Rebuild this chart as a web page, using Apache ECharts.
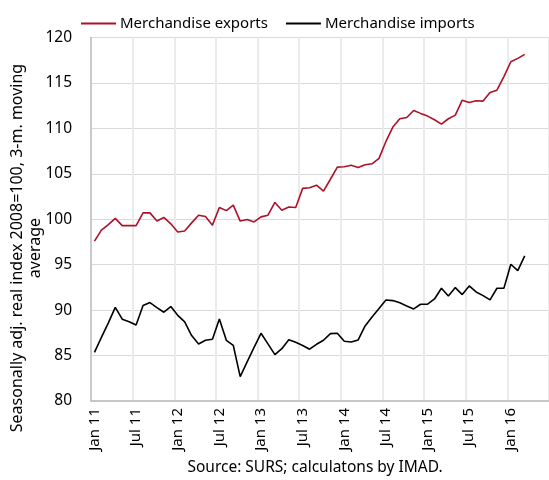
<!DOCTYPE html>
<html>
<head>
<meta charset="utf-8">
<script src="https://cdn.jsdelivr.net/npm/echarts@6/dist/echarts.min.js"></script>
<style>
  html, body { margin: 0; padding: 0; background: #fff; }
  #chart { width: 549px; height: 480px; }
</style>
</head>
<body>
<div id="chart"></div>
<script>
// months Jan 2011 - Jun 2016 (data ends Mar 2016)
const monthNames = ['Jan', 'Feb', 'Mar', 'Apr', 'May', 'Jun', 'Jul', 'Aug', 'Sep', 'Oct', 'Nov', 'Dec'];
const years = ['11', '12', '13', '14', '15', '16'];
const categories = [];
years.forEach(y => monthNames.forEach(m => categories.push(m + ' ' + y)));
categories.length = 66;

const exportsData = [
    97.6, 98.8, 99.4, 100.1, 99.3, 99.3, 99.3, 100.7, 100.7, 99.8, 100.2, 99.5,
    98.6, 98.7, 99.6, 100.45, 100.3, 99.35, 101.3, 100.95, 101.55, 99.8, 99.97, 99.7,
    100.26, 100.45, 101.85, 101.0, 101.35, 101.3, 103.4, 103.46, 103.75, 103.1, 104.4, 105.74,
    105.77, 105.95, 105.7, 106.0, 106.1, 106.7, 108.56, 110.14, 111.06, 111.2, 111.97, 111.65,
    111.35, 110.95, 110.47, 111.06, 111.46, 113.1, 112.85, 113.04, 113.0, 113.95, 114.2, 115.7,
    117.33, 117.7, 118.14
];

const importsData = [
    85.36, 87.0, 88.6, 90.3, 89.0, 88.73, 88.37, 90.5, 90.83, 90.28, 89.77, 90.39,
    89.43, 88.7, 87.2, 86.28, 86.68, 86.79, 89.03, 86.68, 86.13, 82.68, 84.3, 85.9,
    87.45, 86.28, 85.1, 85.76, 86.75, 86.46, 86.1, 85.7, 86.24, 86.68, 87.41, 87.45,
    86.57, 86.5, 86.72, 88.26, 89.25, 90.17, 91.12, 91.05, 90.8, 90.46, 90.13, 90.65,
    90.65, 91.23, 92.41, 91.56, 92.48, 91.71, 92.66, 92.0, 91.6, 91.12, 92.41, 92.41,
    95.05, 94.35, 95.97
];

const seriesNames = ['Merchandise exports', 'Merchandise imports'];
const yTicks = { min: 80, max: 120, step: 5 };

const font = 'Noto Sans';
const chart = echarts.init(document.getElementById('chart'));

chart.setOption({
    animation: false,
    textStyle: { fontFamily: font },
    legend: {
        top: 11,
        left: 76,
        itemWidth: 35,
        itemHeight: 2,
        itemGap: 18,
        icon: 'rect',
        textStyle: { fontSize: 15, color: '#000', padding: [0, 0, 0, -1] },
        data: seriesNames
    },
    grid: {
        left: 91,
        top: 37.5,
        right: -3,
        bottom: 79,
        show: true,
        borderColor: '#c6c6c6',
        borderWidth: 1,
        containLabel: false
    },
    xAxis: {
        type: 'category',
        data: categories,
        boundaryGap: true,
        axisLine: { lineStyle: { color: '#bfbfbf', width: 1.5 } },
        axisTick: { show: false },
        axisLabel: {
            interval: 5,
            rotate: 90,
            margin: 7,
            fontSize: 15,
            color: '#000'
        },
        splitLine: {
            show: true,
            interval: 5,
            lineStyle: { color: '#ebebeb', width: 2 }
        }
    },
    yAxis: {
        type: 'value',
        min: yTicks.min,
        max: yTicks.max,
        interval: yTicks.step,
        axisLine: { show: true, lineStyle: { color: '#bfbfbf', width: 1.5 } },
        axisTick: { show: false },
        axisLabel: { fontSize: 15.5, color: '#000', margin: 19 },
        splitLine: { lineStyle: { color: '#d9d9d9', width: 1 } }
    },
    graphic: [
        {
            type: 'text',
            x: 26,
            y: 248,
            rotation: Math.PI / 2,
            style: {
                text: 'Seasonally adj. real index 2008=100, 3-m. moving\naverage',
                font: '16px "Noto Sans"',
                fill: '#000',
                align: 'center',
                verticalAlign: 'middle',
                lineHeight: 18
            }
        },
        {
            type: 'text',
            x: 315,
            y: 468,
            style: {
                text: 'Source: SURS; calculatons by IMAD.',
                font: '15.5px "Noto Sans"',
                fill: '#000',
                align: 'center',
                verticalAlign: 'middle'
            }
        }
    ],
    series: [
        {
            name: seriesNames[0],
            type: 'line',
            data: exportsData,
            showSymbol: false,
            symbol: 'none',
            lineStyle: { color: '#ad1128', width: 1.6 },
            itemStyle: { color: '#ad1128' }
        },
        {
            name: seriesNames[1],
            type: 'line',
            data: importsData,
            showSymbol: false,
            symbol: 'none',
            lineStyle: { color: '#000', width: 1.6 },
            itemStyle: { color: '#000' }
        }
    ]
});
</script>
</body>
</html>
